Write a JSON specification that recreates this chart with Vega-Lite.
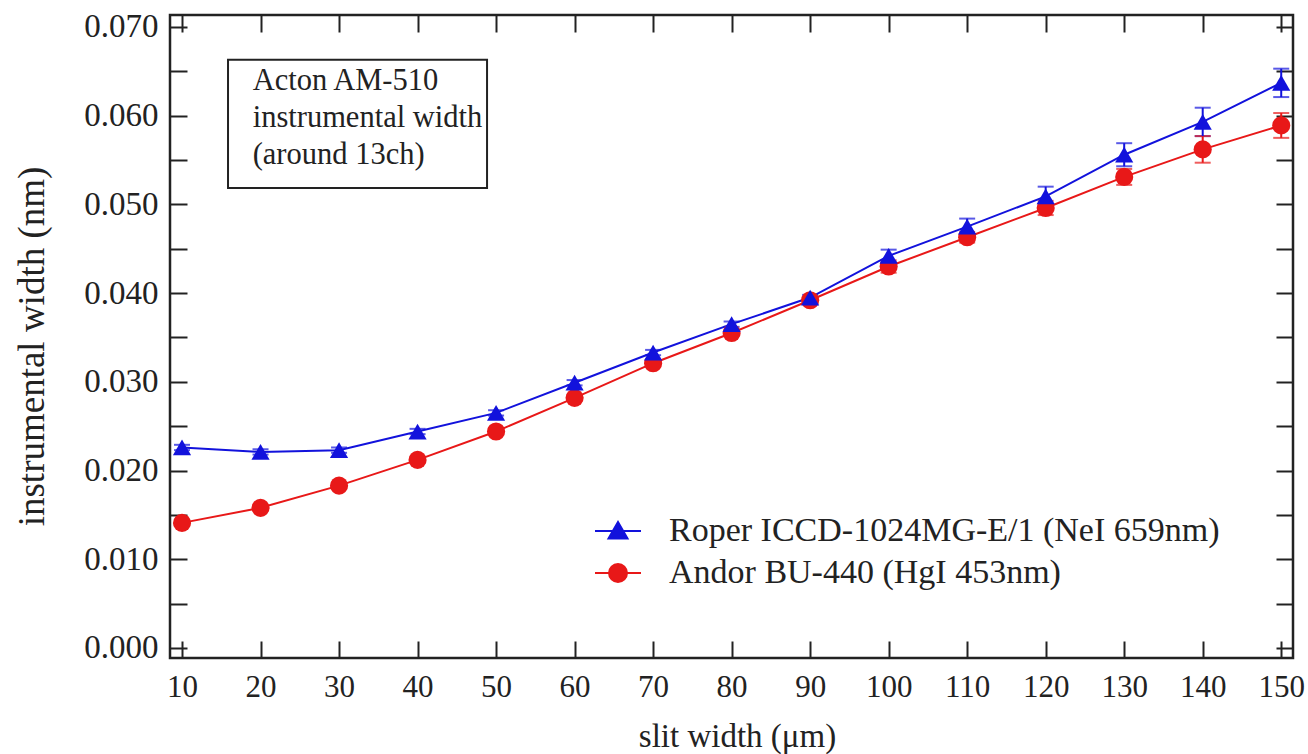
{
  "$schema": "https://vega.github.io/schema/vega-lite/v6.json",
  "width": 1123,
  "height": 643,
  "autosize": {"type": "none"},
  "padding": {"left": 170, "top": 15, "right": 15, "bottom": 96},
  "background": "white",
  "config": {
    "view": {"stroke": "#222", "strokeWidth": 2.5},
    "font": "Liberation Serif",
    "axis": {
      "grid": false,
      "domain": false,
      "tickColor": "#222",
      "tickWidth": 2,
      "labelFont": "Liberation Serif",
      "labelColor": "#222",
      "titleFont": "Liberation Serif",
      "titleFontWeight": "normal",
      "titleColor": "#222"
    },
    "legend": {
      "orient": "none", "legendX": 431, "legendY": 499, "title": null, "padding": 0,
      "symbolSize": 400, "symbolStrokeWidth": 2, "symbolOpacity": 1,
      "labelFont": "Liberation Serif", "labelFontSize": 34, "labelColor": "#222", "labelOffset": 34, "labelLimit": 900, "rowPadding": 8
    }
  },
  "datasets": {
    "pts": [
      {"slit": 10, "series": "Andor BU-440 (HgI 453nm)", "width": 0.0141, "err": 0.0003},
      {"slit": 20, "series": "Andor BU-440 (HgI 453nm)", "width": 0.0158, "err": 0.0003},
      {"slit": 30, "series": "Andor BU-440 (HgI 453nm)", "width": 0.0183, "err": 0.0003},
      {"slit": 40, "series": "Andor BU-440 (HgI 453nm)", "width": 0.0212, "err": 0.0003},
      {"slit": 50, "series": "Andor BU-440 (HgI 453nm)", "width": 0.0244, "err": 0.0003},
      {"slit": 60, "series": "Andor BU-440 (HgI 453nm)", "width": 0.0282, "err": 0.0003},
      {"slit": 70, "series": "Andor BU-440 (HgI 453nm)", "width": 0.0321, "err": 0.0003},
      {"slit": 80, "series": "Andor BU-440 (HgI 453nm)", "width": 0.0355, "err": 0.0003},
      {"slit": 90, "series": "Andor BU-440 (HgI 453nm)", "width": 0.0392, "err": 0.0003},
      {"slit": 100, "series": "Andor BU-440 (HgI 453nm)", "width": 0.0430, "err": 0.0007},
      {"slit": 110, "series": "Andor BU-440 (HgI 453nm)", "width": 0.0463, "err": 0.0006},
      {"slit": 120, "series": "Andor BU-440 (HgI 453nm)", "width": 0.0496, "err": 0.0008},
      {"slit": 130, "series": "Andor BU-440 (HgI 453nm)", "width": 0.0531, "err": 0.0009},
      {"slit": 140, "series": "Andor BU-440 (HgI 453nm)", "width": 0.0562, "err": 0.0015},
      {"slit": 150, "series": "Andor BU-440 (HgI 453nm)", "width": 0.0589, "err": 0.0014},
      {"slit": 10, "series": "Roper ICCD-1024MG-E/1 (NeI 659nm)", "width": 0.0226, "err": 0.0003},
      {"slit": 20, "series": "Roper ICCD-1024MG-E/1 (NeI 659nm)", "width": 0.0221, "err": 0.0003},
      {"slit": 30, "series": "Roper ICCD-1024MG-E/1 (NeI 659nm)", "width": 0.0223, "err": 0.0003},
      {"slit": 40, "series": "Roper ICCD-1024MG-E/1 (NeI 659nm)", "width": 0.0244, "err": 0.0003},
      {"slit": 50, "series": "Roper ICCD-1024MG-E/1 (NeI 659nm)", "width": 0.0265, "err": 0.0003},
      {"slit": 60, "series": "Roper ICCD-1024MG-E/1 (NeI 659nm)", "width": 0.0299, "err": 0.0003},
      {"slit": 70, "series": "Roper ICCD-1024MG-E/1 (NeI 659nm)", "width": 0.0333, "err": 0.0003},
      {"slit": 80, "series": "Roper ICCD-1024MG-E/1 (NeI 659nm)", "width": 0.0365, "err": 0.0003},
      {"slit": 90, "series": "Roper ICCD-1024MG-E/1 (NeI 659nm)", "width": 0.0395, "err": 0.0003},
      {"slit": 100, "series": "Roper ICCD-1024MG-E/1 (NeI 659nm)", "width": 0.0442, "err": 0.0007},
      {"slit": 110, "series": "Roper ICCD-1024MG-E/1 (NeI 659nm)", "width": 0.0475, "err": 0.0009},
      {"slit": 120, "series": "Roper ICCD-1024MG-E/1 (NeI 659nm)", "width": 0.0509, "err": 0.0011},
      {"slit": 130, "series": "Roper ICCD-1024MG-E/1 (NeI 659nm)", "width": 0.0556, "err": 0.0013},
      {"slit": 140, "series": "Roper ICCD-1024MG-E/1 (NeI 659nm)", "width": 0.0593, "err": 0.0016},
      {"slit": 150, "series": "Roper ICCD-1024MG-E/1 (NeI 659nm)", "width": 0.0637, "err": 0.0016}
    ],
    "note": [{"kind": "box"}]
  },
  "layer": [
    {
      "data": {"name": "note"},
      "mark": {"type": "rect", "fill": "white", "stroke": "#222", "strokeWidth": 2},
      "encoding": {
        "x": {"datum": 15.86, "type": "quantitative", "scale": {"domain": [8.47, 151.5], "nice": false, "zero": false}, "axis": null},
        "x2": {"datum": 48.85},
        "y": {"datum": 0.0663, "type": "quantitative", "scale": {"domain": [-0.00113, 0.07135], "nice": false, "zero": false}, "axis": null},
        "y2": {"datum": 0.05186}
      }
    },
    {
      "data": {"name": "note"},
      "mark": {"type": "text", "text": ["Acton AM-510", "instrumental width", "(around 13ch)"], "align": "left", "baseline": "top", "fontSize": 30.5, "lineHeight": 37, "font": "Liberation Serif", "color": "#222"},
      "encoding": {
        "x": {"datum": 19.0, "type": "quantitative", "axis": null},
        "y": {"datum": 0.0656, "type": "quantitative", "axis": null}
      }
    },
    {
      "data": {"name": "pts"},
      "mark": {"type": "errorbar", "ticks": {"size": 16, "thickness": 2}, "thickness": 2},
      "encoding": {
        "x": {"field": "slit", "type": "quantitative",
          "axis": {"orient": "bottom", "values": [10, 20, 30, 40, 50, 60, 70, 80, 90, 100, 110, 120, 130, 140, 150], "tickSize": -17, "labelPadding": 31, "labelFontSize": 31, "title": "slit width (μm)", "titleFontSize": 33, "titleX": 567, "titleY": 62, "titleBaseline": "top"}},
        "y": {"field": "width", "type": "quantitative",
          "axis": {"orient": "left", "values": [0, 0.005, 0.01, 0.015, 0.02, 0.025, 0.03, 0.035, 0.04, 0.045, 0.05, 0.055, 0.06, 0.065, 0.07], "labelExpr": "round(datum.value*1000) % 10 == 0 ? format(datum.value, '.3f') : ''", "tickSize": -17, "labelPadding": 29, "labelFontSize": 33, "title": "instrumental width (nm)", "titleFontSize": 37, "titleX": -119, "titleY": 331,
            "encode": {"ticks": {"update": {"x2": {"signal": "round(datum.value*1000) % 10 == 0 ? 17 : 10"}}}}}},
        "yError": {"field": "err"},
        "color": {"field": "series", "type": "nominal", "scale": {"domain": ["Roper ICCD-1024MG-E/1 (NeI 659nm)", "Andor BU-440 (HgI 453nm)"], "range": ["#1212dc", "#e81818"]},
          "legend": {
            "symbolType": "M-2.3,0H2.3",
            "encode": {"symbols": {"update": {
              "shape": {"signal": "indexof(datum.value, 'Roper') == 0 ? 'M-2.3,0H2.3M0,-0.9L0.95,0.75L-0.95,0.75Z' : 'M-2.3,0H2.3M0.9,0A0.9,0.9 0 1,1 -0.9,0A0.9,0.9 0 1,1 0.9,0Z'"},
              "fill": {"signal": "indexof(datum.value, 'Roper') == 0 ? '#1212dc' : '#e81818'"},
              "stroke": {"signal": "indexof(datum.value, 'Roper') == 0 ? '#1212dc' : '#e81818'"},
              "strokeWidth": {"value": 2},
              "opacity": {"value": 1}
            }}}}}
      }
    },
    {
      "data": {"name": "pts"},
      "mark": {"type": "line", "strokeWidth": 2},
      "encoding": {
        "x": {"field": "slit", "type": "quantitative",
          "axis": {"orient": "top", "values": [10, 20, 30, 40, 50, 60, 70, 80, 90, 100, 110, 120, 130, 140, 150], "tickSize": -17, "labels": false, "title": null}},
        "y": {"field": "width", "type": "quantitative",
          "axis": {"orient": "right", "values": [0, 0.005, 0.01, 0.015, 0.02, 0.025, 0.03, 0.035, 0.04, 0.045, 0.05, 0.055, 0.06, 0.065, 0.07], "tickSize": -17, "labels": false, "title": null,
            "encode": {"ticks": {"update": {"x2": {"signal": "round(datum.value*1000) % 10 == 0 ? -17 : -10"}}}}}},
        "color": {"field": "series", "type": "nominal"}
      }
    },
    {
      "data": {"name": "pts"},
      "transform": [{"filter": "datum.series == 'Andor BU-440 (HgI 453nm)'"}],
      "mark": {"type": "point", "filled": true, "opacity": 1, "size": 330, "shape": "circle"},
      "encoding": {
        "x": {"field": "slit", "type": "quantitative", "axis": null},
        "y": {"field": "width", "type": "quantitative", "axis": null},
        "color": {"field": "series", "type": "nominal"}
      }
    },
    {
      "data": {"name": "pts"},
      "transform": [{"filter": "datum.series == 'Roper ICCD-1024MG-E/1 (NeI 659nm)'"}],
      "mark": {"type": "point", "filled": true, "opacity": 1, "size": 330, "shape": "triangle-up"},
      "encoding": {
        "x": {"field": "slit", "type": "quantitative", "axis": null},
        "y": {"field": "width", "type": "quantitative", "axis": null},
        "color": {"field": "series", "type": "nominal"}
      }
    }
  ],
  "resolve": {"axis": {"x": "independent", "y": "independent"}}
}
